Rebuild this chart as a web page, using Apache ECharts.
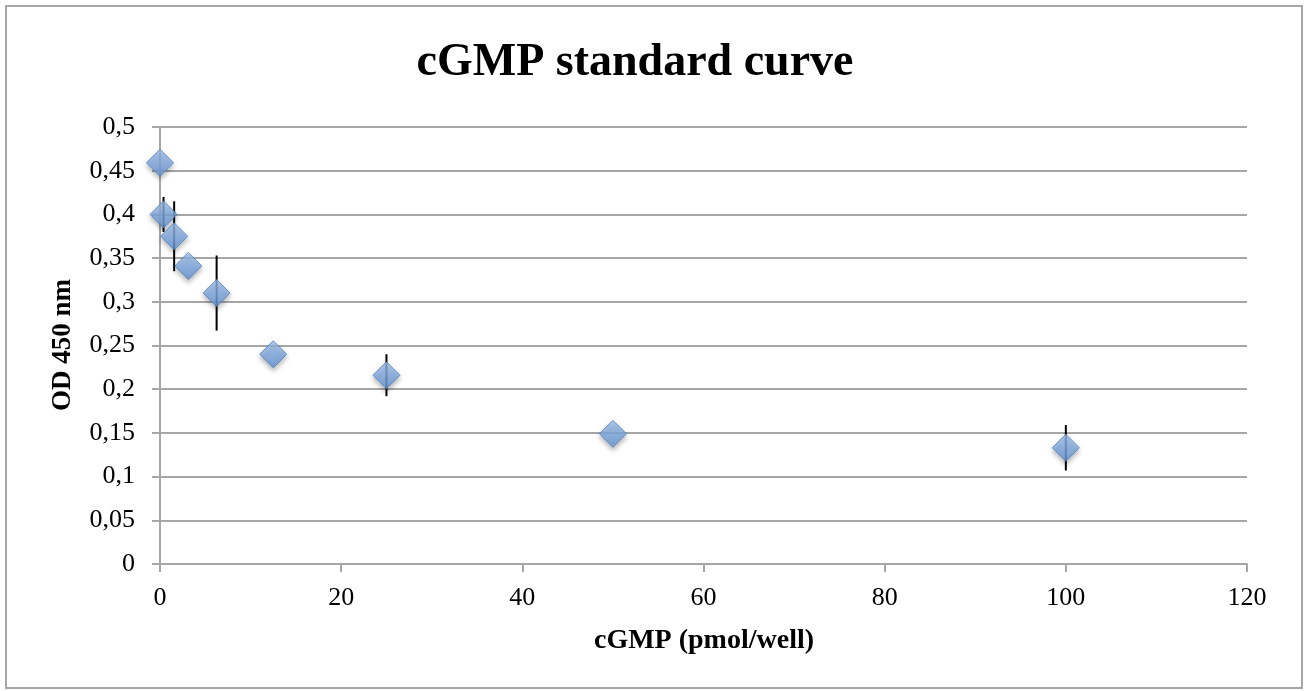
<!DOCTYPE html>
<html><head><meta charset="utf-8">
<script src="https://cdn.jsdelivr.net/npm/echarts@6/dist/echarts.min.js"></script>
<style>html,body{margin:0;padding:0;background:#fff}#c{width:1309px;height:691px}</style>
</head><body><div id="c"></div>
<script>
const titleText = 'cGMP standard curve';
const xName = 'cGMP (pmol/well)';
const yName = 'OD 450 nm';
const concentration = [0, 0.39, 1.5625, 3.125, 6.25, 12.5, 25, 50, 100];
const od450 = [0.459, 0.400, 0.375, 0.341, 0.310, 0.240, 0.216, 0.149, 0.133];
const odError = [0, 0.020, 0.040, 0, 0.043, 0, 0.024, 0, 0.026];
const xTicks = [0, 20, 40, 60, 80, 100, 120];
const yTicks = [0, 0.05, 0.1, 0.15, 0.2, 0.25, 0.3, 0.35, 0.4, 0.45, 0.5];

const points = concentration.map((x, i) => [x, od450[i]]);
const errData = concentration.map((x, i) => [x, od450[i] - odError[i], od450[i] + odError[i]]);
const serif = 'Liberation Serif';
const gridColor = '#a6a6a6';

const chart = echarts.init(document.getElementById('c'));
chart.setOption({
  animation: false,
  backgroundColor: '#fff',
  grid: { left: 160, right: 62, top: 127, bottom: 127 },
  graphic: [
    { type: 'rect', shape: { x: 6, y: 6, width: 1296, height: 682 }, style: { fill: 'none', stroke: '#a6a6a6', lineWidth: 2 }, silent: true },
    { type: 'text', style: { text: titleText, font: 'bold 46px ' + serif, fill: '#000', textAlign: 'center', textVerticalAlign: 'middle' }, x: 635, y: 63 },
    { type: 'text', style: { text: xName, font: 'bold 28px ' + serif, fill: '#000', textAlign: 'center', textVerticalAlign: 'middle' }, x: 704, y: 641 },
    { type: 'text', style: { text: yName, font: 'bold 27px ' + serif, fill: '#000', textAlign: 'center', textVerticalAlign: 'middle' }, x: 63, y: 345, rotation: Math.PI / 2 }
  ],
  xAxis: {
    type: 'value', min: 0, max: xTicks[xTicks.length - 1], interval: 20,
    axisLine: { show: true, lineStyle: { color: gridColor, width: 2 } },
    axisTick: { show: true, length: 8, lineStyle: { color: gridColor, width: 2 } },
    splitLine: { show: false },
    axisLabel: { fontFamily: serif, fontSize: 26, color: '#000', margin: 21 }
  },
  yAxis: {
    type: 'value', min: 0, max: yTicks[yTicks.length - 1], interval: 0.05,
    axisLine: { show: true, lineStyle: { color: gridColor, width: 2 } },
    axisTick: { show: true, length: 8, lineStyle: { color: gridColor, width: 2 } },
    splitLine: { show: true, lineStyle: { color: gridColor, width: 2 } },
    axisLabel: { fontFamily: serif, fontSize: 26, color: '#000', margin: 25,
      formatter: v => String(Math.round(v * 100) / 100).replace('.', ',') }
  },
  series: [
    {
      type: 'custom', z: 2,
      data: errData,
      renderItem: (params, api) => {
        const lo = api.coord([api.value(0), api.value(1)]);
        const hi = api.coord([api.value(0), api.value(2)]);
        return { type: 'line', shape: { x1: lo[0], y1: lo[1], x2: hi[0], y2: hi[1] }, style: { stroke: '#000', lineWidth: 2 } };
      }
    },
    {
      type: 'scatter', z: 3,
      data: points,
      symbol: 'diamond', symbolSize: 27,
      itemStyle: {
        color: new echarts.graphic.LinearGradient(0, 0, 0, 1, [
          { offset: 0, color: '#a2c3ee' }, { offset: 1, color: '#6294d7' }
        ]),
        borderColor: '#4f81bd', borderWidth: 1,
        shadowBlur: 5, shadowOffsetY: 3, shadowColor: 'rgba(0,0,0,0.35)'
      }
    }
  ]
});
</script></body></html>
